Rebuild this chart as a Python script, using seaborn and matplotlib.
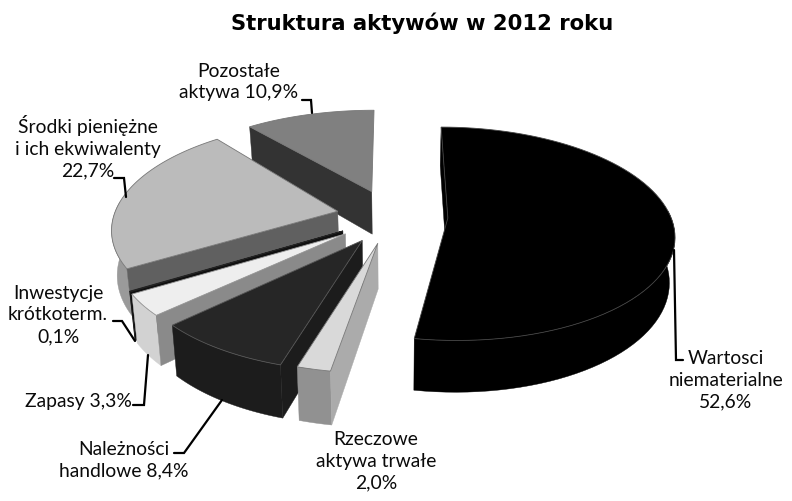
import numpy as np
import matplotlib
matplotlib.use("Agg")
import matplotlib.pyplot as plt
import seaborn as sns

sns.set_theme(style="white")
plt.rcParams['font.family'] = ['Lato', 'DejaVu Sans']

# slices, clockwise from 12 o'clock
labels = ["Wartosci\nniematerialne\n52,6%", "Rzeczowe\naktywa trwałe\n2,0%",
          "Należności\nhandlowe 8,4%", "Zapasy 3,3%", "Inwestycje\nkrótkoterm.\n0,1%",
          "Środki pieniężne\ni ich ekwiwalenty\n22,7%", "Pozostałe\naktywa 10,9%"]
values = [52.6, 2.0, 8.4, 3.3, 0.1, 22.7, 10.9]

# colours per slice
top_colors = ["#000000", "#d9d9d9", "#262626", "#eeeeee", "#1a1a1a", "#bbbbbb", "#808080"]
side_colors = ["#000000", "#ababab", "#1c1c1c", "#8a8a8a", "#111111", "#606060", "#333333"]
rim_colors = ["#000000", "#919191", "#1c1c1c", "#d2d2d2", "#222222", "#9a9a9a", "#4d4d4d"]
edge_colors = ["#444444", "#777777", "#555555", "#999999", "#222222", "#777777", "#777777"]
explode = [0.235, 0.27, 0.26, 0.27, 0.265, 0.26, 0.25]

# small per-slice corrections, the original has a stronger perspective than this model
nudge_x = [0, -3, -1, 0, 0, 0, -5]
nudge_y = [0, -2, 0, 0, 0, 0, 0]
scale_x = [0.99, 1.0, 0.985, 0.98, 0.98, 0.995, 1.0]
scale_y = [0.97, 0.95, 0.97, 0.95, 0.97, 0.98, 0.93]

# pie geometry in image pixels
X0, Y0 = 395, 216
RX, RY = 225, 107
PERSP = 0.147
DEPTH = 44
BOTTOM_SCALE = 0.98
draw_order = [6, 5, 4, 3, 2, 1, 0]

# leader lines (x list, y list)
leaders = [([674, 676, 683], [250, 360, 360]),
           ([312, 311, 302], [113, 100, 100]),
           ([126, 124, 114], [197, 178, 178]),
           ([135, 122, 113], [341, 321, 321]),
           ([148, 144, 133], [355, 405, 405]),
           ([222, 184, 174], [400, 453, 453])]
label_pos = [(726, 380), (376, 461), (124, 460), (78, 401), (58, 315), (88, 147), (239, 82)]


def project(u, v):
    s = 1 / (1 + PERSP * v)
    return X0 + RX * u * s, Y0 - RY * v * s, s


def lower(x, y, s):
    return X0 + (x - X0) * BOTTOM_SCALE, y + DEPTH * s


fig = plt.figure(figsize=(7.92, 5.01), dpi=100, facecolor="white")
ax = fig.add_axes([0, 0, 1, 1])
ax.set_xlim(0, 792)
ax.set_ylim(501, 0)
ax.set_axis_off()

edges = np.cumsum([0] + values) / 100 * 2 * np.pi

for i in draw_order:
    start, end = edges[i], edges[i + 1]
    mid = (start + end) / 2
    cu, cv = explode[i] * np.sin(mid), explode[i] * np.cos(mid)

    theta = np.linspace(start, end, 80)
    au = cu + np.sin(theta)
    av = cv + np.cos(theta)

    vx, vy, vs = project(cu, cv)
    ax_, ay_, as_ = project(au, av)
    ax_ = vx + (ax_ - vx) * scale_x[i] + nudge_x[i]
    ay_ = vy + (ay_ - vy) * scale_y[i] + nudge_y[i]
    vx, vy = vx + nudge_x[i], vy + nudge_y[i]

    vbx, vby = lower(vx, vy, vs)
    abx, aby = lower(ax_, ay_, as_)

    # outer rim, only the part that faces the viewer
    front = np.cos(theta) < 0.1
    if front.any():
        ax.fill(np.r_[ax_[front], abx[front][::-1]], np.r_[ay_[front], aby[front][::-1]],
                color=rim_colors[i], lw=0.3, zorder=1)
    # radial wall on the start side
    ax.fill([vx, ax_[0], abx[0], vbx], [vy, ay_[0], aby[0], vby], color=side_colors[i], lw=0.3, zorder=1)
    # top face
    ax.fill(np.r_[vx, ax_], np.r_[vy, ay_], facecolor=top_colors[i], edgecolor=edge_colors[i], lw=0.6, zorder=1)

for lx, ly in leaders:
    ax.plot(lx, ly, color="black", lw=1.6, solid_joinstyle="miter", zorder=3)

for text, (tx, ty) in zip(labels, label_pos):
    ax.text(tx, ty, text, ha="center", va="center", fontsize=13.9, color="#0a0a0a", linespacing=1.33, zorder=4)

ax.text(422, 23, "Struktura aktywów w 2012 roku", ha="center", va="center",
        fontsize=15.2, fontweight="bold", family="DejaVu Sans", color="black")

fig.savefig("out.png", dpi=100, facecolor="white")
